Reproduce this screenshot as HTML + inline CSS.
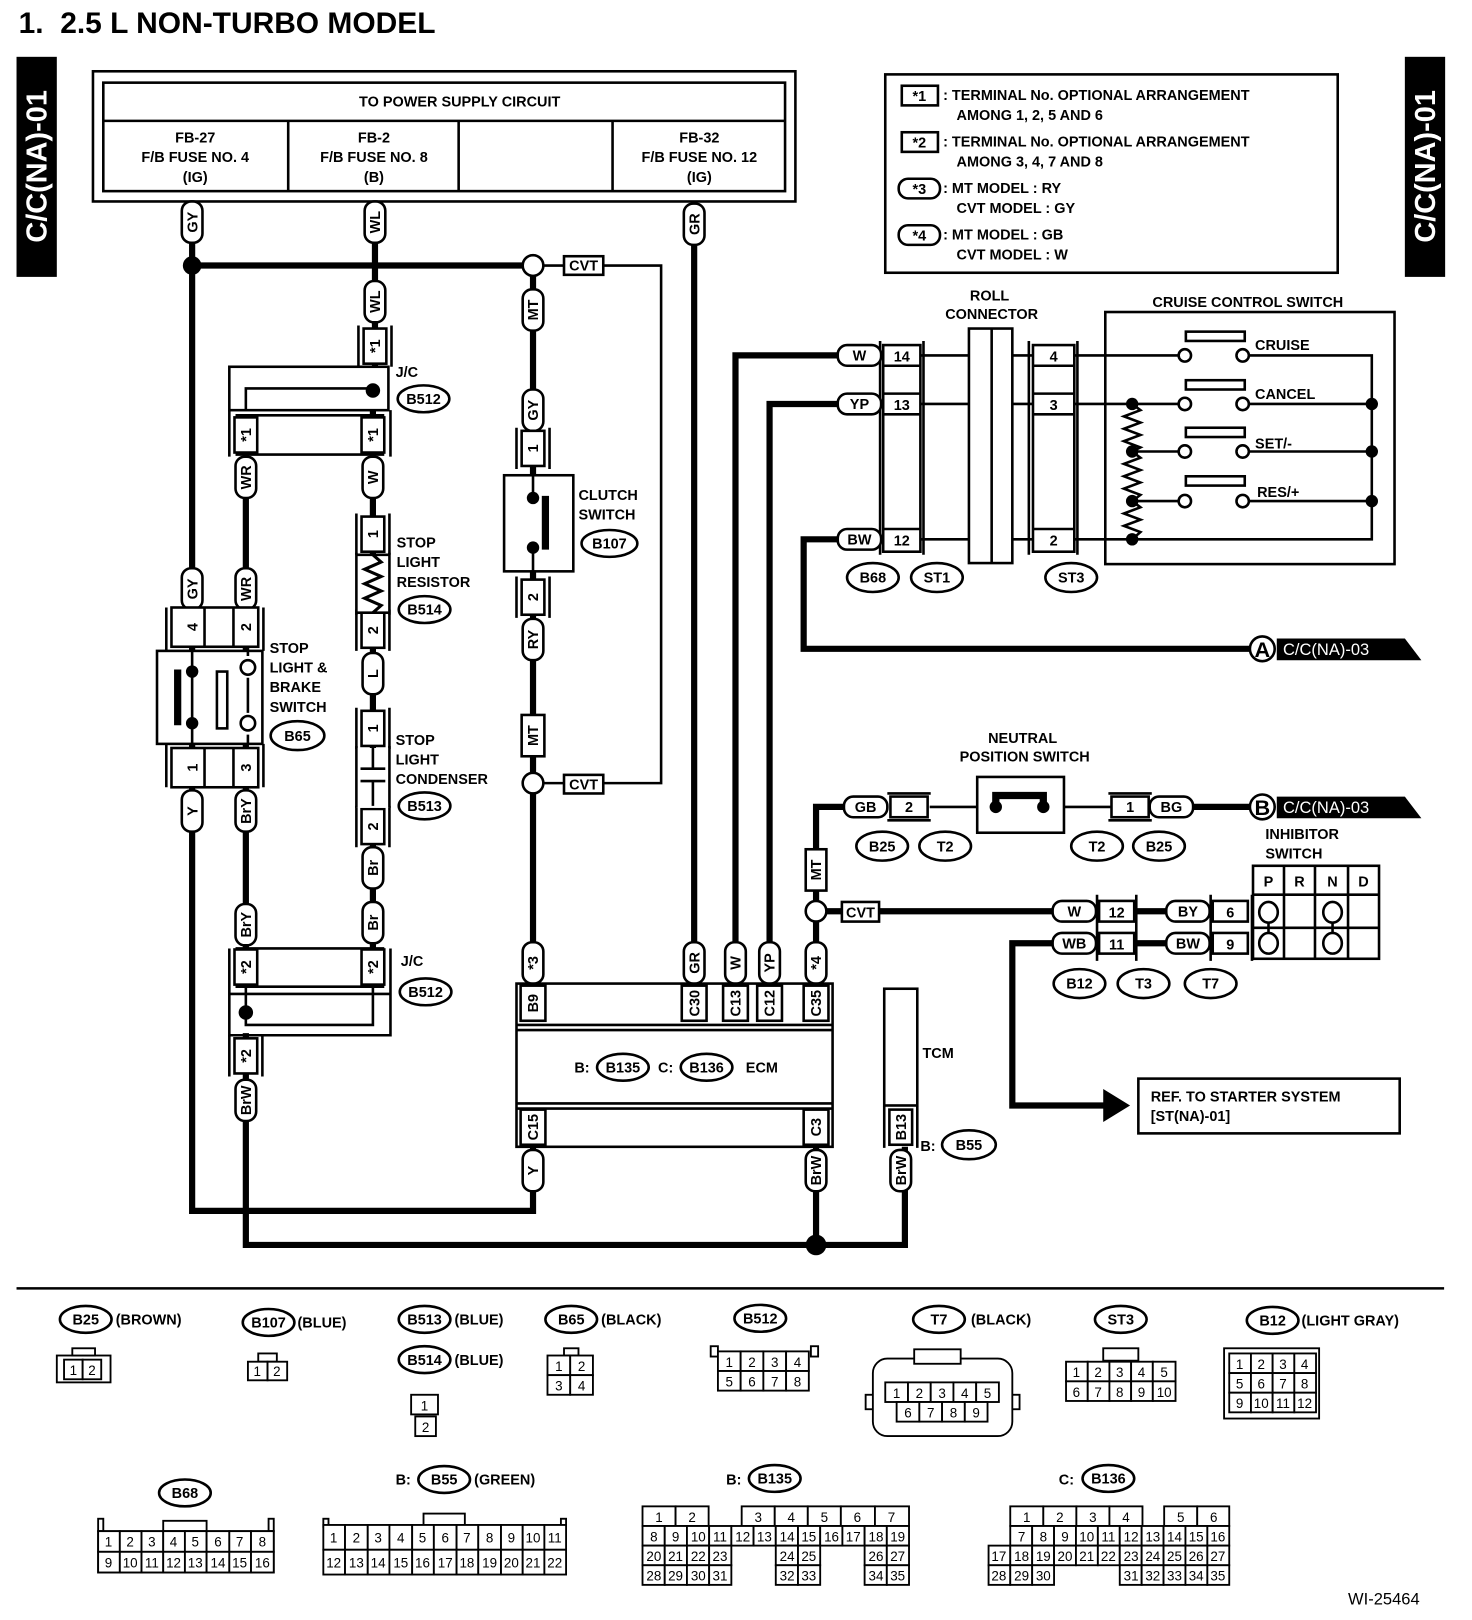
<!DOCTYPE html>
<html><head><meta charset="utf-8"><style>
html,body{margin:0;padding:0;background:#fff}
svg{display:block}
text{font-family:"Liberation Sans",sans-serif;font-weight:bold;font-size:14px;fill:#000}
.c text,text.c{text-anchor:middle}
.w{fill:none;stroke:#000;stroke-width:6}
.l{fill:none;stroke:#000;stroke-width:2.5}
.b{fill:#fff;stroke:#000;stroke-width:2.5}
.n text{font-weight:normal;font-size:13px;text-anchor:middle}
.n rect{fill:#fff;stroke:#000;stroke-width:1.8}
</style></head><body>
<svg width="1472" height="1620" viewBox="0 0 1425 1568" preserveAspectRatio="none" xmlns="http://www.w3.org/2000/svg">
<defs>
<g id="cap"><rect x="-10" y="-20" width="20" height="40" rx="9" class="b"/></g>
<g id="hcap"><rect x="-21" y="-10" width="42" height="20" rx="9" class="b"/></g>
<g id="term"><path d="M-16,-20V20M16,-20V20" class="l"/><rect x="-11" y="-17" width="22" height="34" class="b"/></g>
<g id="hterm"><path d="M-21,-13H21M-21,13H21" class="l"/><rect x="-18" y="-10" width="36" height="20" class="b"/></g>
</defs>
<text x="18" y="32" style="font-size:29px;white-space:pre">1.  2.5 L NON-TURBO MODEL</text>
<rect x="16" y="55" width="39" height="213" fill="#000"/>
<text transform="translate(45,161) rotate(-90)" class="c" style="font-size:28px;fill:#fff">C/C(NA)-01</text>
<rect x="1360" y="55" width="39" height="213" fill="#000"/>
<text transform="translate(1389,161) rotate(-90)" class="c" style="font-size:28px;fill:#fff">C/C(NA)-01</text>

<!-- top box -->
<rect x="90" y="69" width="680" height="126" class="l" stroke-width="3"/>
<rect x="100" y="80" width="660" height="105" class="l" stroke-width="3"/>
<path d="M100,117H760M279,117V185M444,117V185M593,117V185" class="l" stroke-width="3"/>
<g class="c">
<text x="445" y="103">TO POWER SUPPLY CIRCUIT</text>
<text x="189" y="138">FB-27</text><text x="189" y="157">F/B FUSE NO. 4</text><text x="189" y="176">(IG)</text>
<text x="362" y="138">FB-2</text><text x="362" y="157">F/B FUSE NO. 8</text><text x="362" y="176">(B)</text>
<text x="677" y="138">FB-32</text><text x="677" y="157">F/B FUSE NO. 12</text><text x="677" y="176">(IG)</text>
</g>

<!-- wires -->
<path class="w" d="M186,195V1172H516V1110"/>
<path class="w" d="M186,257H516"/>
<path class="w" d="M363,195V355M361,397V918"/>
<path class="w" d="M238,440V918M238,1000V1205H876V1110"/>
<path class="w" d="M516,257V952"/>
<path class="w" d="M672,195V952"/>
<path class="w" d="M832,344H712V952M832,391H745V952M832,522H778V628H1210"/>
<path class="w" d="M790,1110V1205"/>
<path class="w" d="M838,781H790V952M790,882H1040M1150,781H1210M1098,882H1150M1098,913H1150M1018,913H980V1070H1072"/>
<polygon points="1068,1054 1094,1070 1068,1086" fill="#000"/>
<circle cx="186" cy="257" r="9"/>
<circle cx="790" cy="1205" r="10"/>
<path class="l" d="M526,257H640V758H526"/>
<circle cx="516" cy="257" r="10" class="b"/><circle cx="516" cy="758" r="10" class="b"/>
<g class="c"><rect x="546" y="248" width="38" height="18" class="b"/><text x="565" y="262">CVT</text>
<rect x="546" y="750" width="38" height="18" class="b"/><text x="565" y="764">CVT</text></g>

<!-- top capsules -->
<g class="c">
<g transform="translate(186,215)"><use href="#cap"/><text transform="rotate(-90)" y="5">GY</text></g>
<g transform="translate(363,215)"><use href="#cap"/><text transform="rotate(-90)" y="5">WL</text></g>
<g transform="translate(672,217)"><use href="#cap"/><text transform="rotate(-90)" y="5">GR</text></g>
<g transform="translate(363,292)"><use href="#cap"/><text transform="rotate(-90)" y="5">WL</text></g>
<g transform="translate(363,335)"><use href="#term"/><text transform="rotate(-90)" y="5">*1</text></g>
</g>

<!-- upper J/C -->
<rect x="222" y="355" width="154" height="42" class="l" stroke-width="3"/>
<path class="l" d="M238,397V376H361" stroke-width="3"/>
<circle cx="361" cy="378" r="7"/>
<path class="l" d="M222,397V442M378,397V442M228,402H372M228,440H372" stroke-width="3"/>
<g class="c">
<g transform="translate(238,421)"><rect x="-11" y="-17" width="22" height="34" class="b"/><text transform="rotate(-90)" y="5">*1</text></g>
<g transform="translate(361,421)"><rect x="-11" y="-17" width="22" height="34" class="b"/><text transform="rotate(-90)" y="5">*1</text></g>
<g transform="translate(238,462)"><use href="#cap"/><text transform="rotate(-90)" y="5">WR</text></g>
<g transform="translate(361,462)"><use href="#cap"/><text transform="rotate(-90)" y="5">W</text></g>
</g>
<text x="383" y="365">J/C</text>
<ellipse cx="410" cy="386" rx="25" ry="13" class="b"/><text x="410" y="391" class="c">B512</text>

<!-- stop light resistor -->
<g class="c">
<g transform="translate(361,517)"><use href="#term"/><text transform="rotate(-90)" y="5">1</text></g>
<g transform="translate(361,610)"><use href="#term"/><text transform="rotate(-90)" y="5">2</text></g>
<g transform="translate(361,652)"><use href="#cap"/><text transform="rotate(-90)" y="5">L</text></g>
<g transform="translate(361,705)"><use href="#term"/><text transform="rotate(-90)" y="5">1</text></g>
<g transform="translate(361,800)"><use href="#term"/><text transform="rotate(-90)" y="5">2</text></g>
<g transform="translate(361,840)"><use href="#cap"/><text transform="rotate(-90)" y="5">Br</text></g>
<g transform="translate(361,893)"><use href="#cap"/><text transform="rotate(-90)" y="5">Br</text></g>
</g>
<rect x="345" y="537" width="32" height="56" fill="#fff"/>
<path class="l" d="M345,535V595M377,535V595M345,537H377M345,593H377" />
<path d="M361,537L369,544L353,551L369,558L353,565L369,572L353,579L369,586L361,593" fill="none" stroke="#000" stroke-width="3"/>
<rect x="345" y="724" width="32" height="58" fill="#fff"/>
<path class="l" d="M345,722V782M377,722V782M361,724V744M349,744H373M349,756H373M361,756V780"/>
<text x="384" y="530">STOP</text><text x="384" y="549">LIGHT</text><text x="384" y="568">RESISTOR</text>
<ellipse cx="411" cy="590" rx="25" ry="13" class="b"/><text x="411" y="595" class="c">B514</text>
<text x="383" y="721">STOP</text><text x="383" y="740">LIGHT</text><text x="383" y="759">CONDENSER</text>
<ellipse cx="411" cy="780" rx="25" ry="13" class="b"/><text x="411" y="785" class="c">B513</text>

<!-- B65 switch -->
<g class="c">
<g transform="translate(186,570)"><use href="#cap"/><text transform="rotate(-90)" y="5">GY</text></g>
<g transform="translate(238,570)"><use href="#cap"/><text transform="rotate(-90)" y="5">WR</text></g>
</g>
<rect x="166" y="588" width="84" height="38" class="b" stroke-width="3"/>
<path class="l" d="M198,588V626M226,588V626M161,588V630M255,588V630" stroke-width="3"/>
<text transform="translate(191,607) rotate(-90)" class="c">4</text><text transform="translate(243,607) rotate(-90)" class="c">2</text>
<rect x="152" y="630" width="102" height="90" class="b" stroke-width="3"/>
<path d="M186,626V720M240,626V635M240,656V690M240,711V720" class="l"/>
<path d="M172,648V702" stroke="#000" stroke-width="7"/>
<circle cx="186" cy="650" r="6"/><circle cx="186" cy="700" r="6"/>
<rect x="210" y="650" width="10" height="55" class="b"/>
<circle cx="240" cy="646" r="7" class="b"/><circle cx="240" cy="700" r="7" class="b"/>
<rect x="166" y="724" width="84" height="38" class="b" stroke-width="3"/>
<path class="l" d="M198,724V762M226,724V762M161,720V762M255,720V762" stroke-width="3"/>
<text transform="translate(191,743) rotate(-90)" class="c">1</text><text transform="translate(243,743) rotate(-90)" class="c">3</text>
<g class="c">
<g transform="translate(186,785)"><use href="#cap"/><text transform="rotate(-90)" y="5">Y</text></g>
<g transform="translate(238,785)"><use href="#cap"/><text transform="rotate(-90)" y="5">BrY</text></g>
<g transform="translate(238,895)"><use href="#cap"/><text transform="rotate(-90)" y="5">BrY</text></g>
</g>
<text x="261" y="632">STOP</text><text x="261" y="651">LIGHT &amp;</text><text x="261" y="670">BRAKE</text><text x="261" y="689">SWITCH</text>
<ellipse cx="288" cy="712" rx="26" ry="14" class="b"/><text x="288" y="717" class="c">B65</text>

<!-- lower J/C -->
<path class="l" d="M222,918V1002H378V918M228,918H372M228,955H372M222,962H378" stroke-width="3"/>
<path class="l" d="M238,955V992H361V955" stroke-width="3"/>
<circle cx="238" cy="980" r="7"/>
<g class="c">
<g transform="translate(238,936)"><rect x="-11" y="-17" width="22" height="34" class="b"/><text transform="rotate(-90)" y="5">*2</text></g>
<g transform="translate(361,936)"><rect x="-11" y="-17" width="22" height="34" class="b"/><text transform="rotate(-90)" y="5">*2</text></g>
<g transform="translate(238,1022)"><use href="#term"/><text transform="rotate(-90)" y="5">*2</text></g>
<g transform="translate(238,1065)"><use href="#cap"/><text transform="rotate(-90)" y="5">BrW</text></g>
</g>
<text x="388" y="935">J/C</text>
<ellipse cx="412" cy="960" rx="25" ry="13" class="b"/><text x="412" y="965" class="c">B512</text>

<!-- clutch switch -->
<g class="c">
<g transform="translate(516,300)"><use href="#cap"/><text transform="rotate(-90)" y="5">MT</text></g>
<g transform="translate(516,397)"><use href="#cap"/><text transform="rotate(-90)" y="5">GY</text></g>
<g transform="translate(516,434)"><use href="#term"/><text transform="rotate(-90)" y="5">1</text></g>
<g transform="translate(516,578)"><use href="#term"/><text transform="rotate(-90)" y="5">2</text></g>
<g transform="translate(516,619)"><use href="#cap"/><text transform="rotate(-90)" y="5">RY</text></g>
<g transform="translate(516,712)"><rect x="-11" y="-20" width="22" height="40" class="b"/><text transform="rotate(-90)" y="5">MT</text></g>
</g>
<rect x="488" y="460" width="67" height="93" class="b" stroke-width="3"/>
<path class="l" d="M516,460V480M516,532V553"/>
<path d="M528,480V532" stroke="#000" stroke-width="7"/>
<circle cx="516" cy="482" r="6"/><circle cx="516" cy="530" r="6"/>
<text x="560" y="484">CLUTCH</text><text x="560" y="503">SWITCH</text>
<ellipse cx="590" cy="526" rx="27" ry="13" class="b"/><text x="590" y="531" class="c">B107</text>

<!-- ECM -->
<rect x="500" y="952" width="306" height="158" class="b" stroke-width="3"/>
<path class="l" d="M500,992H806M500,997H806M500,1068H806M500,1073H806" stroke-width="2.5"/>
<g class="c">
<g transform="translate(516,932)"><use href="#cap"/><text transform="rotate(-90)" y="5">*3</text></g>
<g transform="translate(672,932)"><use href="#cap"/><text transform="rotate(-90)" y="5">GR</text></g>
<g transform="translate(712,932)"><use href="#cap"/><text transform="rotate(-90)" y="5">W</text></g>
<g transform="translate(745,932)"><use href="#cap"/><text transform="rotate(-90)" y="5">YP</text></g>
<g transform="translate(790,932)"><use href="#cap"/><text transform="rotate(-90)" y="5">*4</text></g>
<g transform="translate(516,971)"><rect x="-12" y="-17" width="24" height="34" class="b"/><text transform="rotate(-90)" y="5">B9</text></g>
<g transform="translate(672,971)"><rect x="-12" y="-17" width="24" height="34" class="b"/><text transform="rotate(-90)" y="5">C30</text></g>
<g transform="translate(712,971)"><rect x="-12" y="-17" width="24" height="34" class="b"/><text transform="rotate(-90)" y="5">C13</text></g>
<g transform="translate(745,971)"><rect x="-12" y="-17" width="24" height="34" class="b"/><text transform="rotate(-90)" y="5">C12</text></g>
<g transform="translate(790,971)"><rect x="-12" y="-17" width="24" height="34" class="b"/><text transform="rotate(-90)" y="5">C35</text></g>
<g transform="translate(516,1091)"><rect x="-12" y="-17" width="24" height="34" class="b"/><text transform="rotate(-90)" y="5">C15</text></g>
<g transform="translate(790,1091)"><rect x="-12" y="-17" width="24" height="34" class="b"/><text transform="rotate(-90)" y="5">C3</text></g>
<g transform="translate(516,1133)"><use href="#cap"/><text transform="rotate(-90)" y="5">Y</text></g>
<g transform="translate(790,1133)"><use href="#cap"/><text transform="rotate(-90)" y="5">BrW</text></g>
</g>
<text x="556" y="1038">B:</text>
<ellipse cx="603" cy="1033" rx="25" ry="13" class="b"/><text x="603" y="1038" class="c">B135</text>
<text x="637" y="1038">C:</text>
<ellipse cx="684" cy="1033" rx="25" ry="13" class="b"/><text x="684" y="1038" class="c">B136</text>
<text x="722" y="1038">ECM</text>

<!-- TCM -->
<rect x="856" y="957" width="32" height="113" class="b" stroke-width="3"/>
<g class="c">
<g transform="translate(872,1091)"><use href="#term"/><text transform="rotate(-90)" y="5">B13</text></g>
<g transform="translate(872,1133)"><use href="#cap"/><text transform="rotate(-90)" y="5">BrW</text></g>
</g>
<text x="893" y="1024">TCM</text><text x="891" y="1114">B:</text>
<ellipse cx="938" cy="1108" rx="26" ry="14" class="b"/><text x="938" y="1113" class="c">B55</text>

<!-- roll connector & cruise switch -->
<path class="l" d="M892,344H938M892,391H938M892,522H938M980,344H1000M980,391H1000M980,522H1000"/>
<path class="l" d="M1040,344H1147M1040,391H1147M1040,522H1328V344H1203M1096,437H1147M1096,485H1147M1203,391H1328M1203,437H1328M1203,485H1328"/>
<path class="l" d="M852,330V537M894,330V537M996,330V537M1043,330V537"/>
<rect x="855" y="334" width="36" height="200" class="b"/>
<path class="l" d="M855,354H891M855,381H891M855,401H891M855,512H891"/>
<rect x="1000" y="334" width="40" height="200" class="b"/>
<path class="l" d="M1000,354H1040M1000,381H1040M1000,401H1040M1000,512H1040"/>
<g class="c">
<text x="873" y="350">14</text><text x="873" y="397">13</text><text x="873" y="528">12</text>
<text x="1020" y="350">4</text><text x="1020" y="397">3</text><text x="1020" y="528">2</text>
<g transform="translate(832,344)"><use href="#hcap"/><text y="5">W</text></g>
<g transform="translate(832,391)"><use href="#hcap"/><text y="5">YP</text></g>
<g transform="translate(832,522)"><use href="#hcap"/><text y="5">BW</text></g>
</g>
<rect x="938" y="318" width="42" height="227" class="b"/><path class="l" d="M960,318V545"/>
<text x="958" y="291" class="c">ROLL</text><text x="960" y="309" class="c">CONNECTOR</text>
<text x="1208" y="297" class="c">CRUISE CONTROL SWITCH</text>
<rect x="1070" y="302" width="280" height="244" class="l" stroke-width="3"/>
<path d="M1096,391L1104,397L1088,403L1104,409L1088,415L1104,421L1088,427L1104,433L1096,437L1104,443L1088,449L1104,455L1088,461L1104,467L1088,473L1104,479L1096,485L1104,491L1088,497L1104,503L1088,509L1104,515L1096,522" class="l"/>
<g fill="#000"><circle cx="1096" cy="391" r="6"/><circle cx="1096" cy="437" r="6"/><circle cx="1096" cy="485" r="6"/><circle cx="1096" cy="522" r="6"/>
<circle cx="1328" cy="391" r="6"/><circle cx="1328" cy="437" r="6"/><circle cx="1328" cy="485" r="6"/></g>
<g class="b">
<circle cx="1147" cy="344" r="6"/><circle cx="1203" cy="344" r="6"/><rect x="1148" y="321" width="57" height="9"/>
<circle cx="1147" cy="391" r="6"/><circle cx="1203" cy="391" r="6"/><rect x="1148" y="368" width="57" height="9"/>
<circle cx="1147" cy="437" r="6"/><circle cx="1203" cy="437" r="6"/><rect x="1148" y="414" width="57" height="9"/>
<circle cx="1147" cy="485" r="6"/><circle cx="1203" cy="485" r="6"/><rect x="1148" y="461" width="57" height="9"/>
</g>
<text x="1215" y="339">CRUISE</text><text x="1215" y="386">CANCEL</text><text x="1215" y="434">SET/-</text><text x="1217" y="481">RES/+</text>
<g class="c">
<ellipse cx="845" cy="559" rx="25" ry="14" class="b"/><text x="845" y="564">B68</text>
<ellipse cx="907" cy="559" rx="25" ry="14" class="b"/><text x="907" y="564">ST1</text>
<ellipse cx="1037" cy="559" rx="25" ry="14" class="b"/><text x="1037" y="564">ST3</text>
</g>

<!-- A / B tags -->
<circle cx="1222" cy="628" r="12" class="b"/><text x="1222" y="636" class="c" style="font-size:21px">A</text>
<polygon points="1236,618 1360,618 1376,639 1236,639" fill="#000"/>
<text x="1242" y="634" style="fill:#fff;font-weight:normal;font-size:16px">C/C(NA)-03</text>
<circle cx="1222" cy="781" r="12" class="b"/><text x="1222" y="789" class="c" style="font-size:21px">B</text>
<polygon points="1236,771 1360,771 1376,792 1236,792" fill="#000"/>
<text x="1242" y="787" style="fill:#fff;font-weight:normal;font-size:16px">C/C(NA)-03</text>

<!-- neutral position switch -->
<text x="990" y="719" class="c">NEUTRAL</text><text x="992" y="737" class="c">POSITION SWITCH</text>
<path class="l" d="M900,781H1075"/>
<rect x="946" y="752" width="84" height="54" class="b" stroke-width="3"/>
<path d="M964,780V770H1010V780" fill="none" stroke="#000" stroke-width="7"/>
<circle cx="964" cy="781" r="6"/><circle cx="1010" cy="781" r="6"/>
<g class="c">
<g transform="translate(838,781)"><use href="#hcap"/><text y="5">GB</text></g>
<g transform="translate(880,781)"><use href="#hterm"/><text y="5">2</text></g>
<g transform="translate(1094,781)"><use href="#hterm"/><text y="5">1</text></g>
<g transform="translate(1134,781)"><use href="#hcap"/><text y="5">BG</text></g>
<ellipse cx="854" cy="819" rx="25" ry="14" class="b"/><text x="854" y="824">B25</text>
<ellipse cx="915" cy="819" rx="25" ry="14" class="b"/><text x="915" y="824">T2</text>
<ellipse cx="1062" cy="819" rx="25" ry="14" class="b"/><text x="1062" y="824">T2</text>
<ellipse cx="1122" cy="819" rx="25" ry="14" class="b"/><text x="1122" y="824">B25</text>
<g transform="translate(790,842)"><rect x="-10" y="-20" width="20" height="40" class="b"/><text transform="rotate(-90)" y="5">MT</text></g>
</g>
<circle cx="790" cy="882" r="10" class="b"/>
<rect x="815" y="873" width="36" height="19" class="b"/><text x="833" y="888" class="c">CVT</text>

<!-- inhibitor -->
<path class="l" d="M1062,866V930M1100,866V930M1172,866V930M1212,866V930"/>
<rect x="1064" y="872" width="34" height="20" class="b"/><rect x="1064" y="903" width="34" height="20" class="b"/>
<rect x="1174" y="872" width="34" height="20" class="b"/><rect x="1174" y="903" width="34" height="20" class="b"/>
<g class="c">
<text x="1081" y="888">12</text><text x="1081" y="919">11</text><text x="1191" y="888">6</text><text x="1191" y="919">9</text>
<g transform="translate(1040,882)"><use href="#hcap"/><text y="5">W</text></g>
<g transform="translate(1040,913)"><use href="#hcap"/><text y="5">WB</text></g>
<g transform="translate(1150,882)"><use href="#hcap"/><text y="5">BY</text></g>
<g transform="translate(1150,913)"><use href="#hcap"/><text y="5">BW</text></g>
</g>
<rect x="1213" y="838" width="122" height="90" class="l" stroke-width="3"/>
<path class="l" d="M1213,866H1335M1213,898H1335M1243,838V928M1273,838V928M1305,838V928" stroke-width="3"/>
<g class="c"><text x="1228" y="858">P</text><text x="1258" y="858">R</text><text x="1290" y="858">N</text><text x="1320" y="858">D</text></g>
<path class="l" d="M1228,891V905M1290,891V905"/>
<g class="b"><ellipse cx="1228" cy="883" rx="9" ry="10"/><ellipse cx="1228" cy="913" rx="9" ry="10"/><ellipse cx="1290" cy="883" rx="9" ry="10"/><ellipse cx="1290" cy="913" rx="9" ry="10"/></g>
<text x="1225" y="812">INHIBITOR</text><text x="1225" y="831">SWITCH</text>
<g class="c">
<ellipse cx="1045" cy="952" rx="25" ry="14" class="b"/><text x="1045" y="957">B12</text>
<ellipse cx="1107" cy="952" rx="25" ry="14" class="b"/><text x="1107" y="957">T3</text>
<ellipse cx="1172" cy="952" rx="25" ry="14" class="b"/><text x="1172" y="957">T7</text>
</g>
<rect x="1102" y="1044" width="253" height="53" class="l" stroke-width="2.5"/>
<text x="1114" y="1066">REF. TO STARTER SYSTEM</text><text x="1114" y="1085">[ST(NA)-01]</text>

<!-- notes -->
<rect x="857" y="72" width="438" height="192" class="l" stroke-width="2.5"/>
<rect x="873" y="83" width="35" height="19" class="l"/><text x="890" y="98" class="c">*1</text>
<text x="913" y="97">: TERMINAL No. OPTIONAL ARRANGEMENT</text><text x="926" y="116">AMONG 1, 2, 5 AND 6</text>
<rect x="873" y="128" width="35" height="19" class="l"/><text x="890" y="143" class="c">*2</text>
<text x="913" y="142">: TERMINAL No. OPTIONAL ARRANGEMENT</text><text x="926" y="161">AMONG 3, 4, 7 AND 8</text>
<rect x="870" y="173" width="40" height="19" rx="9" class="l"/><text x="890" y="188" class="c">*3</text>
<text x="913" y="187">: MT MODEL    : RY</text><text x="926" y="206">CVT MODEL : GY</text>
<rect x="870" y="218" width="40" height="19" rx="9" class="l"/><text x="890" y="233" class="c">*4</text>
<text x="913" y="232">: MT MODEL    : GB</text><text x="926" y="251">CVT MODEL : W</text>

<!-- separator -->
<path d="M16,1247H1398" stroke="#000" stroke-width="2.5"/>

<!-- bottom connector labels -->
<g class="c">
<ellipse cx="83" cy="1277" rx="25" ry="13" class="b"/><text x="83" y="1282">B25</text>
<ellipse cx="260" cy="1280" rx="25" ry="13" class="b"/><text x="260" y="1285">B107</text>
<ellipse cx="411" cy="1277" rx="25" ry="13" class="b"/><text x="411" y="1282">B513</text>
<ellipse cx="411" cy="1316" rx="25" ry="13" class="b"/><text x="411" y="1321">B514</text>
<ellipse cx="553" cy="1277" rx="25" ry="13" class="b"/><text x="553" y="1282">B65</text>
<ellipse cx="736" cy="1276" rx="25" ry="13" class="b"/><text x="736" y="1281">B512</text>
<ellipse cx="909" cy="1277" rx="25" ry="13" class="b"/><text x="909" y="1282">T7</text>
<ellipse cx="1085" cy="1277" rx="25" ry="13" class="b"/><text x="1085" y="1282">ST3</text>
<ellipse cx="1232" cy="1278" rx="25" ry="13" class="b"/><text x="1232" y="1283">B12</text>
<ellipse cx="179" cy="1445" rx="25" ry="13" class="b"/><text x="179" y="1450">B68</text>
<ellipse cx="430" cy="1432" rx="25" ry="13" class="b"/><text x="430" y="1437">B55</text>
<ellipse cx="750" cy="1431" rx="25" ry="13" class="b"/><text x="750" y="1436">B135</text>
<ellipse cx="1073" cy="1431" rx="25" ry="13" class="b"/><text x="1073" y="1436">B136</text>
</g>
<text x="112" y="1282">(BROWN)</text><text x="288" y="1285">(BLUE)</text><text x="440" y="1282">(BLUE)</text><text x="440" y="1321">(BLUE)</text>
<text x="582" y="1282">(BLACK)</text><text x="940" y="1282">(BLACK)</text><text x="1260" y="1283">(LIGHT GRAY)</text>
<text x="383" y="1437">B:</text><text x="459" y="1437">(GREEN)</text><text x="703" y="1437">B:</text><text x="1025" y="1437">C:</text>
<text x="1305" y="1553" style="font-weight:normal;font-size:16px">WI-25464</text>

<!-- bottom connector grids -->
<g class="n">
<rect x="55" y="1312" width="52" height="26"/><rect x="70" y="1305" width="22" height="7"/>
<rect x="62" y="1316" width="18" height="19"/><rect x="80" y="1316" width="18" height="19"/>
<text x="71" y="1331">1</text><text x="89" y="1331">2</text>
<rect x="250" y="1310" width="18" height="8"/>
<rect x="240" y="1318" width="19" height="18"/><rect x="259" y="1318" width="19" height="18"/>
<text x="249" y="1332">1</text><text x="268" y="1332">2</text>
<rect x="398" y="1350" width="26" height="19"/><rect x="402" y="1371" width="20" height="19"/>
<text x="411" y="1365">1</text><text x="412" y="1386">2</text>
<rect x="546" y="1305" width="14" height="7"/>
<rect x="530" y="1312" width="22" height="19"/><rect x="552" y="1312" width="22" height="19"/>
<rect x="530" y="1331" width="22" height="19"/><rect x="552" y="1331" width="22" height="19"/>
<text x="541" y="1327">1</text><text x="563" y="1327">2</text><text x="541" y="1346">3</text><text x="563" y="1346">4</text>
<rect x="688" y="1303" width="7" height="10"/><rect x="785" y="1303" width="7" height="10"/>
<rect x="695" y="1308" width="22" height="19"/><rect x="717" y="1308" width="22" height="19"/><rect x="739" y="1308" width="22" height="19"/><rect x="761" y="1308" width="22" height="19"/>
<rect x="695" y="1327" width="22" height="19"/><rect x="717" y="1327" width="22" height="19"/><rect x="739" y="1327" width="22" height="19"/><rect x="761" y="1327" width="22" height="19"/>
<text x="706" y="1323">1</text><text x="728" y="1323">2</text><text x="750" y="1323">3</text><text x="772" y="1323">4</text>
<text x="706" y="1342">5</text><text x="728" y="1342">6</text><text x="750" y="1342">7</text><text x="772" y="1342">8</text>
<rect x="838" y="1350" width="10" height="14"/><rect x="977" y="1350" width="10" height="14"/>
<rect x="845" y="1315" width="135" height="75" rx="14"/>
<rect x="885" y="1306" width="45" height="14"/>
<rect x="857" y="1338" width="22" height="19"/><rect x="879" y="1338" width="22" height="19"/><rect x="901" y="1338" width="22" height="19"/><rect x="923" y="1338" width="22" height="19"/><rect x="945" y="1338" width="22" height="19"/>
<rect x="868" y="1357" width="22" height="19"/><rect x="890" y="1357" width="22" height="19"/><rect x="912" y="1357" width="22" height="19"/><rect x="934" y="1357" width="22" height="19"/>
<text x="868" y="1353">1</text><text x="890" y="1353">2</text><text x="912" y="1353">3</text><text x="934" y="1353">4</text><text x="956" y="1353">5</text>
<text x="879" y="1372">6</text><text x="901" y="1372">7</text><text x="923" y="1372">8</text><text x="945" y="1372">9</text>
<rect x="1068" y="1305" width="34" height="12"/>
<rect x="1032" y="1318" width="21" height="19"/><rect x="1053" y="1318" width="21" height="19"/><rect x="1074" y="1318" width="21" height="19"/><rect x="1095" y="1318" width="21" height="19"/><rect x="1116" y="1318" width="22" height="19"/>
<rect x="1032" y="1337" width="21" height="19"/><rect x="1053" y="1337" width="21" height="19"/><rect x="1074" y="1337" width="21" height="19"/><rect x="1095" y="1337" width="21" height="19"/><rect x="1116" y="1337" width="22" height="19"/>
<text x="1042" y="1333">1</text><text x="1063" y="1333">2</text><text x="1084" y="1333">3</text><text x="1105" y="1333">4</text><text x="1127" y="1333">5</text>
<text x="1042" y="1352">6</text><text x="1063" y="1352">7</text><text x="1084" y="1352">8</text><text x="1105" y="1352">9</text><text x="1127" y="1352">10</text>
<rect x="1185" y="1305" width="92" height="68"/>
<rect x="1190" y="1310" width="21" height="19"/><rect x="1211" y="1310" width="21" height="19"/><rect x="1232" y="1310" width="21" height="19"/><rect x="1253" y="1310" width="21" height="19"/>
<rect x="1190" y="1329" width="21" height="19"/><rect x="1211" y="1329" width="21" height="19"/><rect x="1232" y="1329" width="21" height="19"/><rect x="1253" y="1329" width="21" height="19"/>
<rect x="1190" y="1348" width="21" height="19"/><rect x="1211" y="1348" width="21" height="19"/><rect x="1232" y="1348" width="21" height="19"/><rect x="1253" y="1348" width="21" height="19"/>
<text x="1200" y="1325">1</text><text x="1221" y="1325">2</text><text x="1242" y="1325">3</text><text x="1263" y="1325">4</text>
<text x="1200" y="1344">5</text><text x="1221" y="1344">6</text><text x="1242" y="1344">7</text><text x="1263" y="1344">8</text>
<text x="1200" y="1363">9</text><text x="1221" y="1363">10</text><text x="1242" y="1363">11</text><text x="1263" y="1363">12</text>
<rect x="95" y="1470" width="5" height="12"/><rect x="260" y="1470" width="5" height="12"/><rect x="158" y="1472" width="42" height="10"/>
<rect x="95" y="1482" width="170" height="40"/>
<rect x="95" y="1482" width="21" height="20"/><rect x="116" y="1482" width="21" height="20"/><rect x="137" y="1482" width="21" height="20"/><rect x="158" y="1482" width="21" height="20"/><rect x="179" y="1482" width="21" height="20"/><rect x="200" y="1482" width="22" height="20"/><rect x="222" y="1482" width="21" height="20"/><rect x="243" y="1482" width="22" height="20"/>
<rect x="95" y="1502" width="21" height="20"/><rect x="116" y="1502" width="21" height="20"/><rect x="137" y="1502" width="21" height="20"/><rect x="158" y="1502" width="21" height="20"/><rect x="179" y="1502" width="21" height="20"/><rect x="200" y="1502" width="22" height="20"/><rect x="222" y="1502" width="21" height="20"/><rect x="243" y="1502" width="22" height="20"/>
<text x="105" y="1497">1</text><text x="126" y="1497">2</text><text x="147" y="1497">3</text><text x="168" y="1497">4</text><text x="189" y="1497">5</text><text x="211" y="1497">6</text><text x="232" y="1497">7</text><text x="254" y="1497">8</text>
<text x="105" y="1517">9</text><text x="126" y="1517">10</text><text x="147" y="1517">11</text><text x="168" y="1517">12</text><text x="189" y="1517">13</text><text x="211" y="1517">14</text><text x="232" y="1517">15</text><text x="254" y="1517">16</text>
<rect x="410" y="1465" width="40" height="11"/>
<rect x="313" y="1470" width="5" height="8"/><rect x="543" y="1470" width="5" height="8"/>
<rect x="313" y="1476" width="21" height="24"/><rect x="334" y="1476" width="22" height="24"/><rect x="356" y="1476" width="21" height="24"/><rect x="377" y="1476" width="22" height="24"/><rect x="399" y="1476" width="21" height="24"/><rect x="420" y="1476" width="22" height="24"/><rect x="442" y="1476" width="21" height="24"/><rect x="463" y="1476" width="22" height="24"/><rect x="485" y="1476" width="21" height="24"/><rect x="506" y="1476" width="21" height="24"/><rect x="527" y="1476" width="21" height="24"/>
<rect x="313" y="1500" width="21" height="24"/><rect x="334" y="1500" width="22" height="24"/><rect x="356" y="1500" width="21" height="24"/><rect x="377" y="1500" width="22" height="24"/><rect x="399" y="1500" width="21" height="24"/><rect x="420" y="1500" width="22" height="24"/><rect x="442" y="1500" width="21" height="24"/><rect x="463" y="1500" width="22" height="24"/><rect x="485" y="1500" width="21" height="24"/><rect x="506" y="1500" width="21" height="24"/><rect x="527" y="1500" width="21" height="24"/>
<text x="323" y="1493">1</text><text x="345" y="1493">2</text><text x="366" y="1493">3</text><text x="388" y="1493">4</text><text x="409" y="1493">5</text><text x="431" y="1493">6</text><text x="452" y="1493">7</text><text x="474" y="1493">8</text><text x="495" y="1493">9</text><text x="516" y="1493">10</text><text x="537" y="1493">11</text>
<text x="323" y="1517">12</text><text x="345" y="1517">13</text><text x="366" y="1517">14</text><text x="388" y="1517">15</text><text x="409" y="1517">16</text><text x="431" y="1517">17</text><text x="452" y="1517">18</text><text x="474" y="1517">19</text><text x="495" y="1517">20</text><text x="516" y="1517">21</text><text x="537" y="1517">22</text>
<rect x="622" y="1458" width="32" height="19"/><rect x="654" y="1458" width="32" height="19"/>
<rect x="718" y="1458" width="32" height="19"/><rect x="750" y="1458" width="32" height="19"/><rect x="782" y="1458" width="32" height="19"/><rect x="814" y="1458" width="33" height="19"/><rect x="847" y="1458" width="33" height="19"/>
<text x="638" y="1473">1</text><text x="670" y="1473">2</text><text x="734" y="1473">3</text><text x="766" y="1473">4</text><text x="798" y="1473">5</text><text x="830" y="1473">6</text><text x="863" y="1473">7</text>
<rect x="622" y="1477" width="21.5" height="19"/><rect x="643.5" y="1477" width="21.5" height="19"/><rect x="665" y="1477" width="21.5" height="19"/><rect x="686.5" y="1477" width="21.5" height="19"/><rect x="708" y="1477" width="21.5" height="19"/><rect x="729.5" y="1477" width="21.5" height="19"/><rect x="751" y="1477" width="21.5" height="19"/><rect x="772.5" y="1477" width="21.5" height="19"/><rect x="794" y="1477" width="21.5" height="19"/><rect x="815.5" y="1477" width="21.5" height="19"/><rect x="837" y="1477" width="21.5" height="19"/><rect x="858.5" y="1477" width="21.5" height="19"/>
<text x="633" y="1492">8</text><text x="654" y="1492">9</text><text x="676" y="1492">10</text><text x="697" y="1492">11</text><text x="719" y="1492">12</text><text x="740" y="1492">13</text><text x="762" y="1492">14</text><text x="783" y="1492">15</text><text x="805" y="1492">16</text><text x="826" y="1492">17</text><text x="848" y="1492">18</text><text x="869" y="1492">19</text>
<rect x="622" y="1496" width="21.5" height="19"/><rect x="643.5" y="1496" width="21.5" height="19"/><rect x="665" y="1496" width="21.5" height="19"/><rect x="686.5" y="1496" width="21.5" height="19"/><rect x="751" y="1496" width="21.5" height="19"/><rect x="772.5" y="1496" width="21.5" height="19"/><rect x="837" y="1496" width="21.5" height="19"/><rect x="858.5" y="1496" width="21.5" height="19"/>
<text x="633" y="1511">20</text><text x="654" y="1511">21</text><text x="676" y="1511">22</text><text x="697" y="1511">23</text><text x="762" y="1511">24</text><text x="783" y="1511">25</text><text x="848" y="1511">26</text><text x="869" y="1511">27</text>
<rect x="622" y="1515" width="21.5" height="19"/><rect x="643.5" y="1515" width="21.5" height="19"/><rect x="665" y="1515" width="21.5" height="19"/><rect x="686.5" y="1515" width="21.5" height="19"/><rect x="751" y="1515" width="21.5" height="19"/><rect x="772.5" y="1515" width="21.5" height="19"/><rect x="837" y="1515" width="21.5" height="19"/><rect x="858.5" y="1515" width="21.5" height="19"/>
<text x="633" y="1530">28</text><text x="654" y="1530">29</text><text x="676" y="1530">30</text><text x="697" y="1530">31</text><text x="762" y="1530">32</text><text x="783" y="1530">33</text><text x="848" y="1530">34</text><text x="869" y="1530">35</text>
<rect x="978" y="1458" width="32" height="19"/><rect x="1010" y="1458" width="32" height="19"/><rect x="1042" y="1458" width="32" height="19"/><rect x="1074" y="1458" width="32" height="19"/>
<rect x="1127" y="1458" width="32" height="19"/><rect x="1159" y="1458" width="31" height="19"/>
<text x="994" y="1473">1</text><text x="1026" y="1473">2</text><text x="1058" y="1473">3</text><text x="1090" y="1473">4</text><text x="1143" y="1473">5</text><text x="1175" y="1473">6</text>
<rect x="978" y="1477" width="21.2" height="19"/><rect x="999.2" y="1477" width="21.2" height="19"/><rect x="1020.4" y="1477" width="21.2" height="19"/><rect x="1041.6" y="1477" width="21.2" height="19"/><rect x="1062.8" y="1477" width="21.2" height="19"/><rect x="1084" y="1477" width="21.2" height="19"/><rect x="1105.2" y="1477" width="21.2" height="19"/><rect x="1126.4" y="1477" width="21.2" height="19"/><rect x="1147.6" y="1477" width="21.2" height="19"/><rect x="1168.8" y="1477" width="21.2" height="19"/>
<text x="989" y="1492">7</text><text x="1010" y="1492">8</text><text x="1031" y="1492">9</text><text x="1052" y="1492">10</text><text x="1073" y="1492">11</text><text x="1095" y="1492">12</text><text x="1116" y="1492">13</text><text x="1137" y="1492">14</text><text x="1158" y="1492">15</text><text x="1179" y="1492">16</text>
<rect x="957" y="1496" width="21" height="19"/><rect x="978" y="1496" width="21.2" height="19"/><rect x="999.2" y="1496" width="21.2" height="19"/><rect x="1020.4" y="1496" width="21.2" height="19"/><rect x="1041.6" y="1496" width="21.2" height="19"/><rect x="1062.8" y="1496" width="21.2" height="19"/><rect x="1084" y="1496" width="21.2" height="19"/><rect x="1105.2" y="1496" width="21.2" height="19"/><rect x="1126.4" y="1496" width="21.2" height="19"/><rect x="1147.6" y="1496" width="21.2" height="19"/><rect x="1168.8" y="1496" width="21.2" height="19"/>
<text x="967" y="1511">17</text><text x="989" y="1511">18</text><text x="1010" y="1511">19</text><text x="1031" y="1511">20</text><text x="1052" y="1511">21</text><text x="1073" y="1511">22</text><text x="1095" y="1511">23</text><text x="1116" y="1511">24</text><text x="1137" y="1511">25</text><text x="1158" y="1511">26</text><text x="1179" y="1511">27</text>
<rect x="957" y="1515" width="21" height="19"/><rect x="978" y="1515" width="21.2" height="19"/><rect x="999.2" y="1515" width="21.2" height="19"/>
<rect x="1084" y="1515" width="21.2" height="19"/><rect x="1105.2" y="1515" width="21.2" height="19"/><rect x="1126.4" y="1515" width="21.2" height="19"/><rect x="1147.6" y="1515" width="21.2" height="19"/><rect x="1168.8" y="1515" width="21.2" height="19"/>
<text x="967" y="1530">28</text><text x="989" y="1530">29</text><text x="1010" y="1530">30</text><text x="1095" y="1530">31</text><text x="1116" y="1530">32</text><text x="1137" y="1530">33</text><text x="1158" y="1530">34</text><text x="1179" y="1530">35</text>
</g>
</svg>
</body></html>
